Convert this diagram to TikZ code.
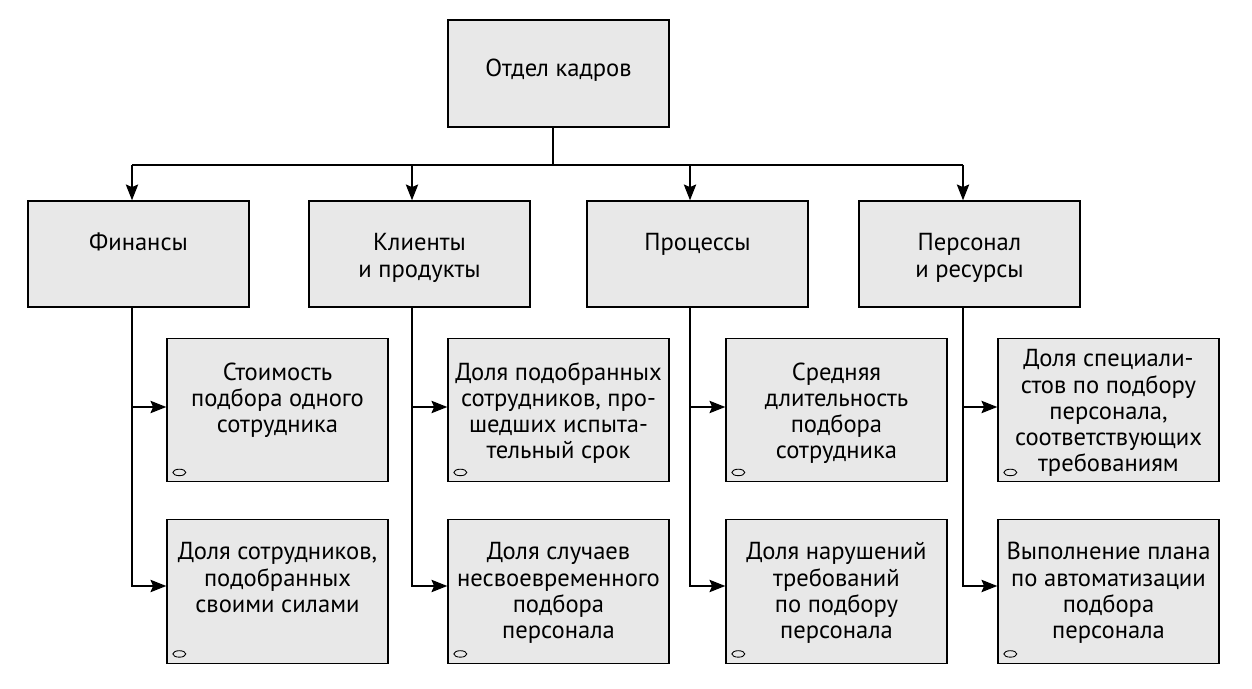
\documentclass[tikz,border=0pt]{standalone}
\usepackage{fontspec}
\setmainfont{PT Sans}
\usetikzlibrary{arrows.meta,calc,shapes.geometric}
\definecolor{boxgray}{HTML}{E8E8E8}
\newcommand{\mlines}[1]{\begin{tabular}[t]{@{}c@{}}#1\end{tabular}}
\tikzset{
  box/.style={draw, line width=0.8pt, fill=boxgray, minimum width=4.42cm, inner sep=0pt},
  lvl1/.style={box, minimum height=2.14cm},
  lvl2/.style={box, minimum height=2.12cm},
  lvl3/.style={box, minimum height=2.87cm},
  lbl/.style={inner sep=0pt, anchor=base, font=\fontsize{14}{14.8}\selectfont},
  conn/.style={line width=1.1pt, -{Stealth[length=9pt, width=7pt, inset=1.5pt]}},
  ovalmark/.style={draw, line width=0.5pt, ellipse, minimum width=0.26cm, minimum height=0.13cm, inner sep=0pt},
}
\begin{document}
\begin{tikzpicture}[x=0.02cm, y=-0.02cm]
\useasboundingbox (0,0) rectangle (1252,689);
% top
\node[lvl1] (top) at (558.5,73.5) {};
\node[lbl] (topt) at (558.5,77) {\mlines{Отдел кадров}};
% level 2
\node[lvl2] (fin) at (138.5,254) {};
\node[lbl] (fint) at (138.5,251) {\mlines{Финансы}};
\node[lvl2] (cli) at (419.5,254) {};
\node[lbl] (clit) at (419.5,251) {\mlines{Клиенты\\и продукты}};
\node[lvl2] (pro) at (697.5,254) {};
\node[lbl] (prot) at (697.5,251) {\mlines{Процессы}};
\node[lvl2] (per) at (969.5,254) {};
\node[lbl] (pert) at (969.5,251) {\mlines{Персонал\\и ресурсы}};
% level 3
\foreach \n/\x in {a/277.5,b/558.5,c/836.5,d/1108.5}{
  \node[lvl3] (\n1) at (\x,410) {};
  \node[lvl3] (\n2) at (\x,591.5) {};
  \node[ovalmark] (\n1m) at ($(\n1.south west)+(13,-10)$) {};
  \node[ovalmark] (\n2m) at ($(\n2.south west)+(13,-10)$) {};
}
\node[lbl] (a1t) at (277.5,380) {\mlines{Стоимость\\подбора одного\\сотрудника}};
\node[lbl] (a2t) at (277.5,560) {\mlines{Доля сотрудников,\\подобранных\\своими силами}};
\node[lbl] (b1t) at (558.5,380) {\mlines{Доля подобранных\\сотрудников, про-\\шедших испыта-\\тельный срок}};
\node[lbl] (b2t) at (558.5,560) {\mlines{Доля случаев\\несвоевременного\\подбора\\персонала}};
\node[lbl] (c1t) at (836.5,380) {\mlines{Средняя\\длительность\\подбора\\сотрудника}};
\node[lbl] (c2t) at (836.5,560) {\mlines{Доля нарушений\\требований\\по подбору\\персонала}};
\node[lbl] (d1t) at (1108.5,367) {\mlines{Доля специали-\\стов по подбору\\персонала,\\соответствующих\\требованиям}};
\node[lbl] (d2t) at (1108.5,560) {\mlines{Выполнение плана\\по автоматизации\\подбора\\персонала}};
% connectors top -> level 2
\coordinate (hub) at (553,165);
\draw[line width=1.1pt] (top.south -| hub) -- (hub);
\draw[line width=1.1pt] (132,165) -- (963,165);
\draw[conn] (132,165) -- (fin.north -| 132,0);
\draw[conn] (412,165) -- (cli.north -| 412,0);
\draw[conn] (690,165) -- (pro.north -| 690,0);
\draw[conn] (963,165) -- (per.north -| 963,0);
% level 2 -> level 3
\foreach \p/\n/\x in {fin/a/132,cli/b/412,pro/c/690,per/d/963}{
  \draw[line width=1.1pt] (\p.south -| \x,0) -- (\x,407);
  \draw[conn] (\x,407) -- (\n1.west |- 0,407);
  \draw[conn] (\x,405) -- (\x,586) -- (\n2.west |- 0,586);
}
\end{tikzpicture}
\end{document}
